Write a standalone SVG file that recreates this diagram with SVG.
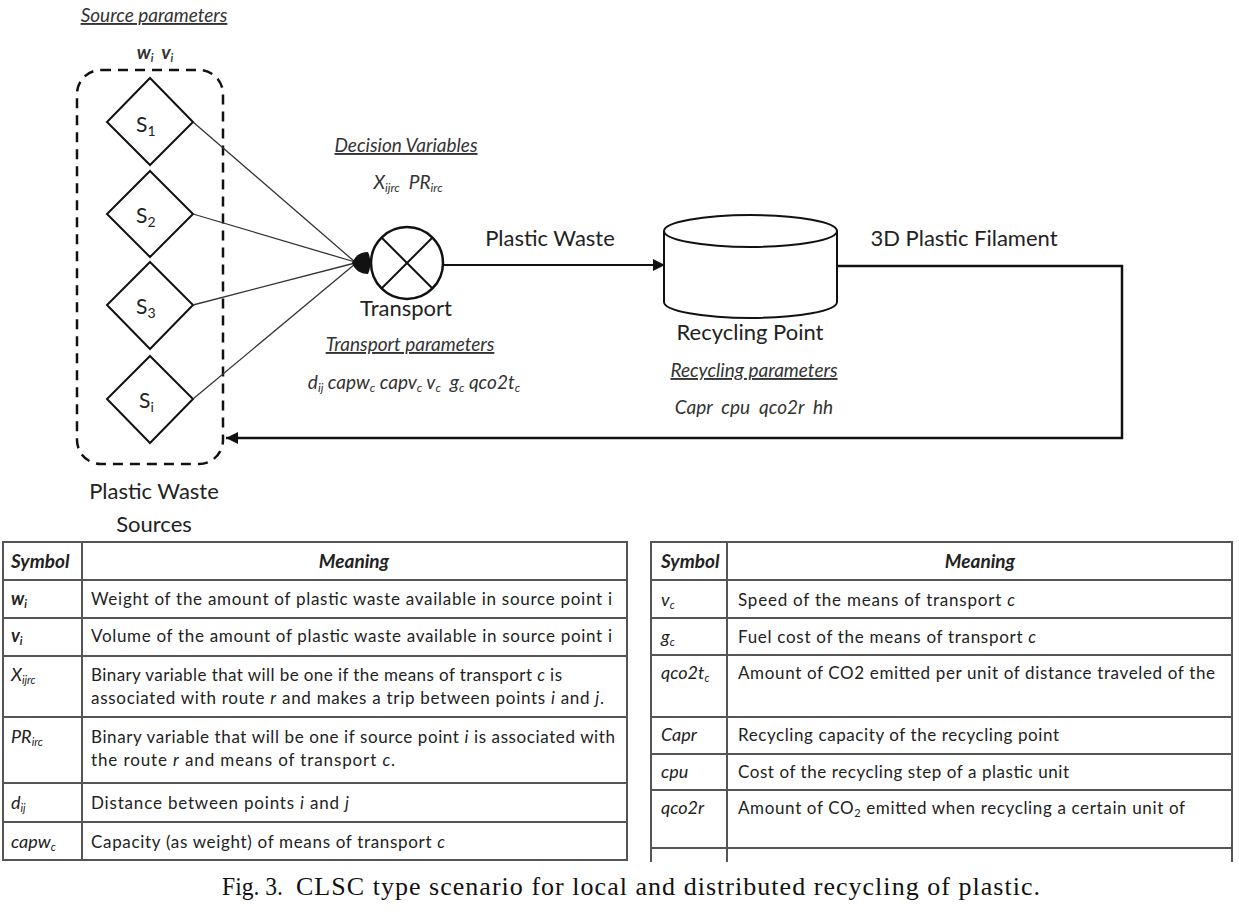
<svg xmlns="http://www.w3.org/2000/svg" width="1239" height="920" viewBox="0 0 1239 920">
<defs>
<style>
.lbl{font-family:Lato,"Open Sans","Liberation Sans",sans-serif;font-size:22px;fill:#222;}
.slbl{font-family:Lato,"Open Sans","Liberation Sans",sans-serif;font-size:21px;fill:#222;}
.par{font-family:Lato,"Open Sans","Liberation Sans",sans-serif;font-size:19px;font-style:italic;fill:#333;}
.hd{text-decoration:underline;}
.tb{font-family:Lato,"Open Sans","Liberation Sans",sans-serif;font-size:17px;fill:#222;}
.sym{font-style:italic;font-size:18px;}
.th{font-weight:bold;font-style:italic;font-size:19px;}
.grid{stroke:#555;stroke-width:2;fill:none;}
.dia{fill:#fff;stroke:#111;stroke-width:2;}
.thin{stroke:#333;stroke-width:1.3;fill:none;}
.cap{font-family:"Liberation Serif","Times New Roman",serif;font-size:26px;fill:#111;}
</style>
<marker id="arr" viewBox="0 0 10 10" refX="10" refY="5" markerUnits="userSpaceOnUse" markerWidth="13" markerHeight="12" orient="auto">
<path d="M0,0 L10,5 L0,10 z" fill="#111"/>
</marker>
</defs>
<rect width="1239" height="920" fill="#fff"/>

<g id="sources">
<text class="par hd" x="154" y="22" text-anchor="middle">Source parameters</text>
<text class="par" x="155" y="59" text-anchor="middle" font-weight="bold" font-size="18" xml:space="preserve">w<tspan font-size="11" dy="3">i</tspan><tspan dy="-3">  v</tspan><tspan font-size="11" dy="3">i</tspan></text>
<rect x="77" y="70" width="146" height="394" rx="24" fill="none" stroke="#111" stroke-width="2.5" stroke-dasharray="10 7"/>
<g id="s1"><polygon class="dia" points="150,78 193,122 150,165 107,122"/><text class="slbl" x="136" y="132">S<tspan font-size="14" dy="4">1</tspan></text></g>
<g id="s2"><polygon class="dia" points="150,171 193,214 150,257 107,214"/><text class="slbl" x="136" y="223">S<tspan font-size="14" dy="4">2</tspan></text></g>
<g id="s3"><polygon class="dia" points="150,262 193,305 150,349 107,305"/><text class="slbl" x="136" y="314">S<tspan font-size="14" dy="4">3</tspan></text></g>
<g id="si"><polygon class="dia" points="150,356 193,399 150,443 107,399"/><text class="slbl" x="139" y="408">S<tspan font-size="14" dy="4">i</tspan></text></g>
<text class="lbl" x="154" y="499" text-anchor="middle">Plastic Waste</text>
<text class="lbl" x="154" y="532" text-anchor="middle">Sources</text>
</g>

<g id="connectors">
<line class="thin" x1="193" y1="122" x2="355" y2="262"/>
<line class="thin" x1="193" y1="214" x2="355" y2="262"/>
<line class="thin" x1="193" y1="305" x2="355" y2="263"/>
<line class="thin" x1="193" y1="399" x2="355" y2="264"/>
<path d="M352,263 C355,256 360,252 368,252 C371,258 371,268 368,274 C360,274 355,270 352,263 Z" fill="#111"/>
<line x1="444" y1="265" x2="665" y2="265" stroke="#111" stroke-width="2" marker-end="url(#arr)"/>
<text class="lbl" x="550" y="246" text-anchor="middle">Plastic Waste</text>
<path d="M837,266 H1122 V438 H226" fill="none" stroke="#111" stroke-width="2.5" marker-end="url(#arr)"/>
<text class="lbl" x="964" y="246" text-anchor="middle">3D Plastic Filament</text>
</g>

<g id="transport">
<text class="par hd" x="406" y="152" text-anchor="middle">Decision Variables</text>
<text class="par" x="408" y="189" text-anchor="middle" xml:space="preserve">X<tspan font-size="12" dy="3">ijrc</tspan><tspan dy="-3">  PR</tspan><tspan font-size="12" dy="3">irc</tspan></text>
<circle cx="407" cy="263" r="36" fill="#fff" stroke="#111" stroke-width="2.5"/>
<line x1="381.5" y1="237.5" x2="432.5" y2="288.5" stroke="#111" stroke-width="2"/>
<line x1="432.5" y1="237.5" x2="381.5" y2="288.5" stroke="#111" stroke-width="2"/>
<text class="lbl" x="406" y="316" text-anchor="middle">Transport</text>
<text class="par hd" x="410" y="351" text-anchor="middle">Transport parameters</text>
<text class="par" x="414" y="389" text-anchor="middle" xml:space="preserve">d<tspan font-size="12" dy="3">ij</tspan><tspan dy="-3"> capw</tspan><tspan font-size="12" dy="3">c</tspan><tspan dy="-3"> capv</tspan><tspan font-size="12" dy="3">c</tspan><tspan dy="-3"> v</tspan><tspan font-size="12" dy="3">c</tspan><tspan dy="-3">  g</tspan><tspan font-size="12" dy="3">c</tspan><tspan dy="-3"> qco2t</tspan><tspan font-size="12" dy="3">c</tspan></text>
</g>

<g id="recycling">
<path d="M664,231 V302 A86.5,16 0 0 0 837,302 V231" fill="#fff" stroke="#111" stroke-width="2"/>
<ellipse cx="750.5" cy="231" rx="86.5" ry="16" fill="#fff" stroke="#111" stroke-width="2"/>
<text class="lbl" x="750" y="340" text-anchor="middle">Recycling Point</text>
<text class="par hd" x="754" y="377" text-anchor="middle">Recycling parameters</text>
<text class="par" x="754" y="414" text-anchor="middle" xml:space="preserve">Capr  cpu  qco2r  hh</text>
</g>

<g id="table-left">
<rect class="grid" x="3" y="542" width="624" height="318"/>
<line class="grid" x1="82" y1="542" x2="82" y2="860"/>
<line class="grid" x1="3" y1="580" x2="627" y2="580"/>
<line class="grid" x1="3" y1="618" x2="627" y2="618"/>
<line class="grid" x1="3" y1="656" x2="627" y2="656"/>
<line class="grid" x1="3" y1="717" x2="627" y2="717"/>
<line class="grid" x1="3" y1="783" x2="627" y2="783"/>
<line class="grid" x1="3" y1="822" x2="627" y2="822"/>
<text class="tb th" x="11" y="568">Symbol</text>
<text class="tb th" x="354" y="568" text-anchor="middle">Meaning</text>
<text class="tb sym" x="11" y="605" font-weight="bold">w<tspan font-size="11" dy="3">i</tspan></text>
<text class="tb" x="91" y="605" textLength="521" lengthAdjust="spacing">Weight of the amount of plastic waste available in source point i</text>
<text class="tb sym" x="11" y="642" font-weight="bold">v<tspan font-size="11" dy="3">i</tspan></text>
<text class="tb" x="91" y="642" textLength="521" lengthAdjust="spacing">Volume of the amount of plastic waste available in source point i</text>
<text class="tb sym" x="11" y="681">X<tspan font-size="11" dy="3">ijrc</tspan></text>
<text class="tb" x="91" y="681" textLength="471" lengthAdjust="spacing">Binary variable that will be one if the means of transport <tspan font-style="italic">c</tspan> is</text>
<text class="tb" x="91" y="704" textLength="513" lengthAdjust="spacing">associated with route <tspan font-style="italic">r</tspan> and makes a trip between points <tspan font-style="italic">i</tspan> and <tspan font-style="italic">j</tspan>.</text>
<text class="tb sym" x="11" y="743">PR<tspan font-size="11" dy="3">irc</tspan></text>
<text class="tb" x="91" y="743" textLength="524" lengthAdjust="spacing">Binary variable that will be one if source point <tspan font-style="italic">i</tspan> is associated with</text>
<text class="tb" x="91" y="766" textLength="304" lengthAdjust="spacing">the route <tspan font-style="italic">r</tspan> and means of transport <tspan font-style="italic">c</tspan>.</text>
<text class="tb sym" x="11" y="809">d<tspan font-size="11" dy="3">ij</tspan></text>
<text class="tb" x="91" y="809" textLength="258" lengthAdjust="spacing">Distance between points <tspan font-style="italic">i</tspan> and <tspan font-style="italic">j</tspan></text>
<text class="tb sym" x="11" y="848">capw<tspan font-size="11" dy="3">c</tspan></text>
<text class="tb" x="91" y="848" textLength="354" lengthAdjust="spacing">Capacity (as weight) of means of transport <tspan font-style="italic">c</tspan></text>
</g>

<g id="table-right">
<path class="grid" d="M651,862 V542 H1232 V862"/>
<line class="grid" x1="727" y1="542" x2="727" y2="862"/>
<line class="grid" x1="651" y1="580" x2="1232" y2="580"/>
<line class="grid" x1="651" y1="618" x2="1232" y2="618"/>
<line class="grid" x1="651" y1="655" x2="1232" y2="655"/>
<line class="grid" x1="651" y1="717" x2="1232" y2="717"/>
<line class="grid" x1="651" y1="754" x2="1232" y2="754"/>
<line class="grid" x1="651" y1="790" x2="1232" y2="790"/>
<line class="grid" x1="651" y1="848" x2="1232" y2="848"/>
<text class="tb th" x="661" y="568">Symbol</text>
<text class="tb th" x="980" y="568" text-anchor="middle">Meaning</text>
<text class="tb sym" x="661" y="606">v<tspan font-size="11" dy="3">c</tspan></text>
<text class="tb" x="738" y="606" textLength="277" lengthAdjust="spacing">Speed of the means of transport <tspan font-style="italic">c</tspan></text>
<text class="tb sym" x="661" y="643">g<tspan font-size="11" dy="3">c</tspan></text>
<text class="tb" x="738" y="643" textLength="298" lengthAdjust="spacing">Fuel cost of the means of transport <tspan font-style="italic">c</tspan></text>
<text class="tb sym" x="661" y="679">qco2t<tspan font-size="11" dy="3">c</tspan></text>
<text class="tb" x="738" y="679" textLength="477" lengthAdjust="spacing">Amount of CO2 emitted per unit of distance traveled of the</text>
<text class="tb sym" x="661" y="741">Capr</text>
<text class="tb" x="738" y="741" textLength="321" lengthAdjust="spacing">Recycling capacity of the recycling point</text>
<text class="tb sym" x="661" y="778">cpu</text>
<text class="tb" x="738" y="778" textLength="331" lengthAdjust="spacing">Cost of the recycling step of a plastic unit</text>
<text class="tb sym" x="661" y="814">qco2r</text>
<text class="tb" x="738" y="814" textLength="447" lengthAdjust="spacing">Amount of CO<tspan font-size="11" dy="3">2</tspan><tspan dy="-3"> emitted when recycling a certain unit of</tspan></text>
</g>

<g id="caption">
<text class="cap" x="222" y="895" font-size="24" textLength="61" lengthAdjust="spacingAndGlyphs">Fig. 3.</text>
<text class="cap" x="296" y="895" textLength="744" lengthAdjust="spacing">CLSC type scenario for local and distributed recycling of plastic.</text>
</g>
</svg>
